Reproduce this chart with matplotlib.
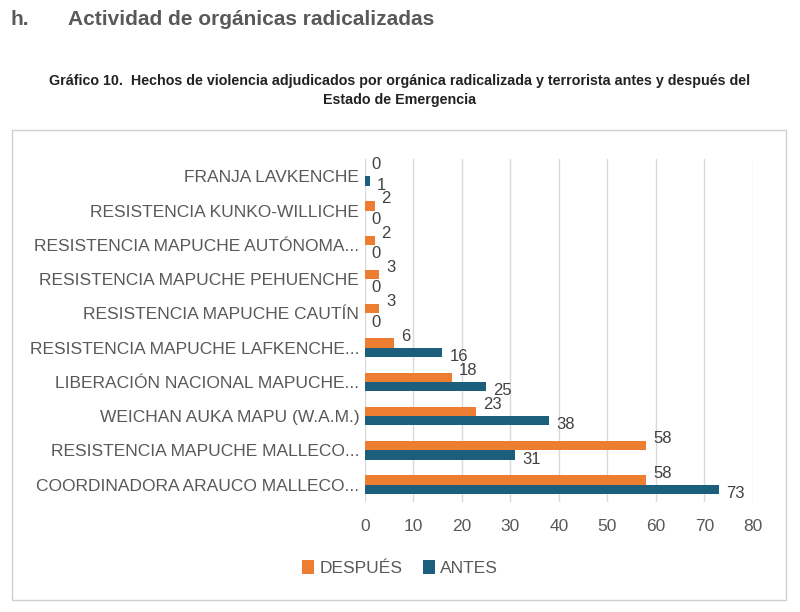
import matplotlib
matplotlib.use("Agg")
import matplotlib.pyplot as plt
from matplotlib.patches import Rectangle
import numpy as np

# categories from bottom to top, as drawn
categorias = [
    "COORDINADORA ARAUCO MALLECO...",
    "RESISTENCIA MAPUCHE MALLECO...",
    "WEICHAN AUKA MAPU (W.A.M.)",
    "LIBERACIÓN NACIONAL MAPUCHE...",
    "RESISTENCIA MAPUCHE LAFKENCHE...",
    "RESISTENCIA MAPUCHE CAUTÍN",
    "RESISTENCIA MAPUCHE PEHUENCHE",
    "RESISTENCIA MAPUCHE AUTÓNOMA...",
    "RESISTENCIA KUNKO-WILLICHE",
    "FRANJA LAVKENCHE",
]
despues = [58, 58, 23, 18, 6, 3, 3, 2, 2, 0]
antes = [73, 31, 38, 25, 16, 0, 0, 0, 0, 1]

naranjo = "#ED7D31"
azul = "#1C5F7C"
gris = "#595959"

plt.rcParams['font.family'] = ['Liberation Sans', 'DejaVu Sans']

fig = plt.figure(figsize=(8, 6.12), dpi=100)

fig.text(0.013, 0.968, "h.", fontsize=15, fontweight="bold", color=gris, va="center")
fig.text(0.085, 0.968, "Actividad de orgánicas radicalizadas", fontsize=15,
         fontweight="bold", color=gris, va="center")
fig.text(0.5, 0.868, "Gráfico 10.  Hechos de violencia adjudicados por orgánica radicalizada y terrorista antes y después del",
         fontsize=10.3, fontweight="bold", color="#222222", ha="center", va="center")
fig.text(0.5, 0.837, "Estado de Emergencia", fontsize=10.3, fontweight="bold",
         color="#222222", ha="center", va="center")

# chart border
fig.patches.append(Rectangle((0.015, 0.02), 0.967, 0.767, transform=fig.transFigure,
                             fill=False, edgecolor="#d0d0d0", linewidth=1))

ax = fig.add_axes([0.456, 0.180, 0.485, 0.560])
y = np.arange(len(categorias))
h = 0.27
b1 = ax.barh(y + h / 2, despues, height=h, color=naranjo, label="DESPUÉS")
b2 = ax.barh(y - h / 2, antes, height=h, color=azul, label="ANTES")

for yi, v in zip(y, despues):
    ax.annotate(str(v), (v, yi + h / 2), xytext=(5, 5), textcoords="offset points",
                ha="left", va="center", fontsize=12, color="#404040")
for yi, v in zip(y, antes):
    ax.annotate(str(v), (v, yi - h / 2), xytext=(5, -3), textcoords="offset points",
                ha="left", va="center", fontsize=12, color="#404040")

ax.set_xlim(0, 80)
ax.set_ylim(-0.5, len(categorias) - 0.5)
ax.set_xticks(range(0, 81, 10))
ax.set_yticks(y)
ax.set_yticklabels(categorias)
ax.tick_params(axis="y", length=0, pad=4, labelsize=12.5, labelcolor=gris)
ax.tick_params(axis="x", length=0, pad=12, labelsize=12.5, labelcolor=gris)
ax.grid(axis="x", color="#d9d9d9", linewidth=1)
ax.set_axisbelow(True)
for s in ax.spines.values():
    s.set_visible(False)

ax.legend(loc="center", bbox_to_anchor=(0.5, 0.072), bbox_transform=fig.transFigure,
          ncol=2, frameon=False, fontsize=12.5, handlelength=0.7, handleheight=0.9,
          handletextpad=0.3, columnspacing=1.2, labelcolor=gris)

fig.savefig("out.png", dpi=100)
